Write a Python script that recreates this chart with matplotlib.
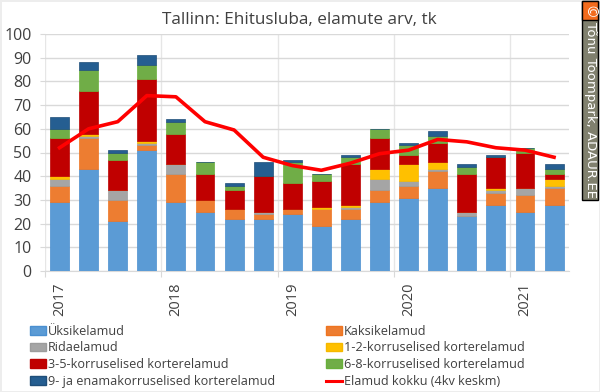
import matplotlib
matplotlib.use('Agg')
import matplotlib.pyplot as plt
import numpy as np
from matplotlib.lines import Line2D
from matplotlib.patches import Patch, Rectangle

plt.rcParams['font.family'] = ['Open Sans', 'DejaVu Sans']

# Quarterly permits, 2017 Q1 .. 2021 Q2
yksik = [29, 43, 21, 51, 29, 25, 22, 22, 24, 19, 22, 29, 31, 35, 23, 28, 25, 28]
kaksik = [7, 13, 9, 2, 12, 5, 4, 2, 2, 7, 4, 5, 5, 7, 0, 5, 7, 7]
rida = [3, 1, 4, 1, 4, 0, 0, 1, 0, 0, 1, 5, 2, 1, 2, 1, 3, 1]
k1_2 = [1, 1, 0, 1, 0, 0, 0, 0, 0, 1, 1, 4, 7, 3, 0, 1, 0, 3]
k3_5 = [16, 18, 13, 26, 13, 11, 8, 15, 11, 11, 17, 13, 4, 8, 16, 13, 15, 2]
k6_8 = [4, 9, 3, 6, 5, 5, 2, 0, 9, 3, 3, 4, 4, 3, 3, 0, 2, 2]
k9 = [5, 3, 1, 4, 1, 0, 1, 6, 1, 0, 1, 0, 1, 2, 1, 1, 0, 2]
kokku = [52, 60, 63, 74, 73.5, 63, 59.5, 48, 44.5, 42.5, 45.5, 49.5, 51, 55.5, 54.5, 52, 51, 48]

names = ['Üksikelamud', 'Kaksikelamud', 'Ridaelamud', '1-2-korruselised korterelamud',
         '3-5-korruselised korterelamud', '6-8-korruselised korterelamud',
         '9- ja enamakorruselised korterelamud']
line_name = 'Elamud kokku (4kv keskm)'
years = ['2017', '2018', '2019', '2020', '2021']

colors = ['#5B9BD5', '#ED7D31', '#A5A5A5', '#FFC000', '#C00000', '#70AD47', '#255E91']
edges = ['#4A8FD0', '#EE7420', '#9C9C9C', '#F5B800', '#BC0000', '#68B03A', '#1F4E79']

fig = plt.figure(figsize=(6, 3.92), dpi=100)
fig.patch.set_edgecolor('#EDEDED')
fig.patch.set_linewidth(2)
ax = fig.add_axes([45 / 600, 1 - 271 / 392, (568.6 - 45) / 600, 237 / 392])

x = np.arange(len(yksik))
bottom = np.zeros(len(yksik))
for vals, c, e in zip([yksik, kaksik, rida, k1_2, k3_5, k6_8, k9], colors, edges):
    ax.bar(x, vals, 0.65, bottom=bottom, color=c, edgecolor=e, linewidth=0.5, zorder=3)
    bottom += np.array(vals)
ax.plot(x, kokku, color='#FF0000', linewidth=2.6, solid_joinstyle='round', zorder=4)

ax.set_xlim(-0.5, len(yksik) - 0.5)
ax.set_ylim(0, 100)
ax.set_yticks(range(0, 101, 10))
ax.tick_params(axis='y', length=3.6, color='#D9D9D9', labelsize=11.5, labelcolor='#404040', pad=6)
ax.set_xticks(np.arange(-0.5, len(yksik), 4))
ax.set_xticklabels([])
ax.tick_params(axis='x', length=4.5, color='#D9D9D9')
ax.grid(axis='y', color='#D9D9D9', linewidth=1, zorder=0)
ax.grid(axis='x', color='#E6E6E6', linewidth=1, zorder=0)
for s in ['top', 'right', 'left']:
    ax.spines[s].set_visible(False)
ax.spines['bottom'].set_color('#D9D9D9')

for i, y in enumerate(years):
    ax.annotate(y, (i * 4, 0), xytext=(0, -8), textcoords='offset points', rotation=90,
                ha='center', va='top', fontsize=10.5, color='#404040')

fig.text(299.5 / 600, 1 - 20 / 392, 'Tallinn: Ehitusluba, elamute arv, tk', ha='center', va='center',
         fontsize=12.3, color='#404040')

handles = [Patch(facecolor=c, edgecolor=e, label=n) for c, e, n in zip(colors, edges, names)]
handles.append(Line2D([0], [0], color='#FF0000', linewidth=2.2, label=line_name))
order = [0, 2, 4, 6, 1, 3, 5, 7]
fig.legend([handles[i] for i in order], [handles[i].get_label() for i in order], ncol=2, frameon=False,
           loc='lower left', bbox_to_anchor=(30 / 600, 4 / 392), fontsize=9.1, labelcolor='#404040',
           handlelength=1.25, handleheight=0.7, handletextpad=0.19, columnspacing=4.0, labelspacing=0.3,
           borderpad=0, borderaxespad=0)

# copyright tag on the right edge
fig.add_artist(Rectangle((582 / 600, 1 - 200 / 392), 16 / 600, 199 / 392, transform=fig.transFigure,
                         facecolor='#80806E', edgecolor='black', linewidth=1))
fig.add_artist(Rectangle((582 / 600, 1 - 20 / 392), 16 / 600, 19 / 392, transform=fig.transFigure,
                         facecolor='#F26B1D', edgecolor='black', linewidth=1))
fig.text(590 / 600, 1 - 10.5 / 392, '©', rotation=270, ha='center', va='center', fontsize=10, color='white')
fig.text(590 / 600, 1 - 110 / 392, 'Tõnu Toompark, ADAUR.EE', rotation=270, ha='center', va='center',
         fontsize=9.5, color='white', family='DejaVu Sans')

fig.savefig('out.png', dpi=100, edgecolor=fig.get_edgecolor())
